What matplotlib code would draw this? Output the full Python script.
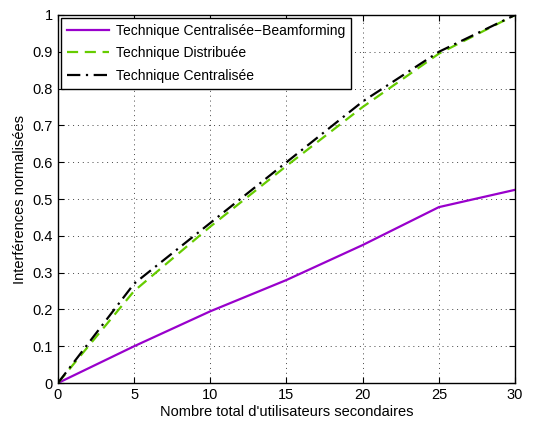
import matplotlib
matplotlib.use("Agg")
import matplotlib.pyplot as plt

# data
users = [0, 5, 10, 15, 20, 25, 30]
central_bf = [0, 0.100, 0.195, 0.280, 0.375, 0.478, 0.525]
distribuee = [0, 0.250, 0.425, 0.590, 0.750, 0.895, 1.000]
centralisee = [0, 0.270, 0.435, 0.600, 0.765, 0.900, 1.000]

labels = ["Technique Centralisée\u2212Beamforming",
          "Technique Distribuée",
          "Technique Centralisée"]

plt.rcParams['font.family'] = ['Liberation Sans', 'DejaVu Sans']

fig = plt.figure(figsize=(5.36, 4.28), dpi=100)
ax = fig.add_axes([0.108, 0.105, 0.853, 0.860])

ax.plot(users, central_bf, color='#9900cc', lw=1.6, ls='-', label=labels[0])
ax.plot(users, distribuee, color='#66cc00', lw=1.6, ls=(0, (5, 3)), label=labels[1])
ax.plot(users, centralisee, color='black', lw=1.6, ls=(0, (6, 2.5, 1, 2.5)), label=labels[2])

ax.set_xlim(0, 30)
ax.set_ylim(0, 1)
ax.set_xticks(range(0, 31, 5))
ax.set_yticks([i / 10 for i in range(11)])
ax.set_yticklabels(['0', '0.1', '0.2', '0.3', '0.4', '0.5', '0.6', '0.7', '0.8', '0.9', '1'])
ax.tick_params(direction='in', top=True, right=True, labelsize=10.5, length=4)
ax.grid(True, ls=(0, (1, 4)), color='#444444', lw=0.7)
for s in ax.spines.values():
    s.set_linewidth(1.0)

ax.set_xlabel("Nombre total d'utilisateurs secondaires", fontsize=10.5, labelpad=2)
ax.set_ylabel("Interférences normalisées", fontsize=10.5, labelpad=4)

leg = ax.legend(loc='upper left', fontsize=10, fancybox=False, framealpha=1,
                edgecolor='black', borderaxespad=0.2, handlelength=3.0,
                handletextpad=0.5, labelspacing=0.6, borderpad=0.45)
leg.get_frame().set_linewidth(1.0)

fig.savefig("out.png", dpi=100)
